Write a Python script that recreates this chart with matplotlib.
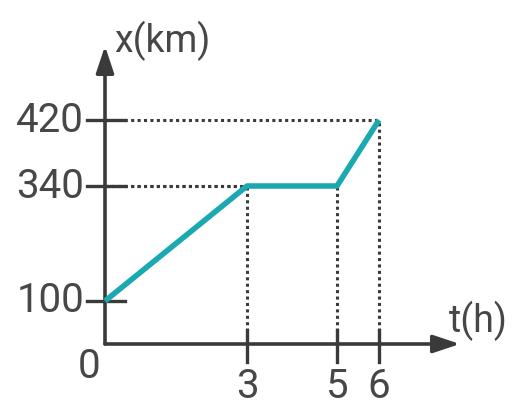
import numpy as np
from matplotlib import pyplot as plt

# data of the x-t graph
t_vals = [0, 3, 5, 6]
x_vals = [100, 340, 340, 420]
t_ticks = [3, 5, 6]
x_ticks = [100, 340, 420]

# schematic axes: data value -> pixel position (image is not to scale)
t_knots = [-100, 0, 3, 5, 6, 100]
t_pix = [105 - 100 * 46, 105, 247, 337, 379, 379 + 94 * 46]
x_knots = [-10000, 0, 100, 340, 420, 10000]
x_pix = [72 - 10000 * 0.43, 72, 115, 230, 296, 296 + 9580 * 0.8]

def fwd_t(v):
    return np.interp(v, t_knots, t_pix)
def inv_t(p):
    return np.interp(p, t_pix, t_knots)
def fwd_x(v):
    return np.interp(v, x_knots, x_pix)
def inv_x(p):
    return np.interp(p, x_pix, x_knots)

W, H = 514, 416
fig = plt.figure(figsize=(W / 100, H / 100), dpi=100)
ax = fig.add_axes([0, 0, 1, 1])
ax.set_xscale('function', functions=(fwd_t, inv_t))
ax.set_yscale('function', functions=(fwd_x, inv_x))
ax.set_xlim(inv_t(0), inv_t(W))
ax.set_ylim(inv_x(0), inv_x(H))
ax.axis('off')

fnt = ['Roboto', 'DejaVu Sans']
dark = '#3a3a3a'
teal = '#1ba9b1'
txt = dict(family=fnt, color='#474747')

# axes with arrows
arr = dict(arrowstyle='-|>,head_length=0.9,head_width=0.3',
           color=dark, lw=2.6, mutation_scale=18, shrinkA=0, shrinkB=0)
ax.annotate('', xy=(inv_t(460), 0), xytext=(0, 0), arrowprops=arr)
ax.annotate('', xy=(0, inv_x(H - 46)), xytext=(0, 0), arrowprops=arr)

# dotted guide lines
for t, x in zip(t_vals[1:], x_vals[1:]):
    ax.plot([0, t], [x, x], ls=(0, (1, 1.1)), color=dark, lw=2.2)
    ax.plot([t, t], [0, x], ls=(0, (1, 1.1)), color=dark, lw=2.2)

# graph
ax.plot(t_vals, x_vals, color=teal, lw=4, solid_capstyle='butt', zorder=5)

# tick marks and labels
for x in x_ticks:
    ax.plot([inv_t(87), inv_t(125)], [x, x], color=dark, lw=2.4)
    ax.text(inv_t(84), x, str(x), ha='right', va='center', fontsize=29, **txt)
for t in t_ticks:
    ax.plot([t, t], [inv_x(H - 330), inv_x(H - 362)], color=dark, lw=2.4)
    ax.text(t, inv_x(H - 386), str(t), ha='center', va='center', fontsize=29, **txt)
ax.text(inv_t(89), inv_x(H - 366), '0', ha='center', va='center', fontsize=29, **txt)

ax.text(inv_t(114), inv_x(H - 41), 'x(km)', ha='left', va='center', fontsize=27, **txt)
ax.text(inv_t(449), inv_x(H - 321), 't(h)', ha='left', va='center', fontsize=27, **txt)

fig.savefig('out.png', dpi=100)
